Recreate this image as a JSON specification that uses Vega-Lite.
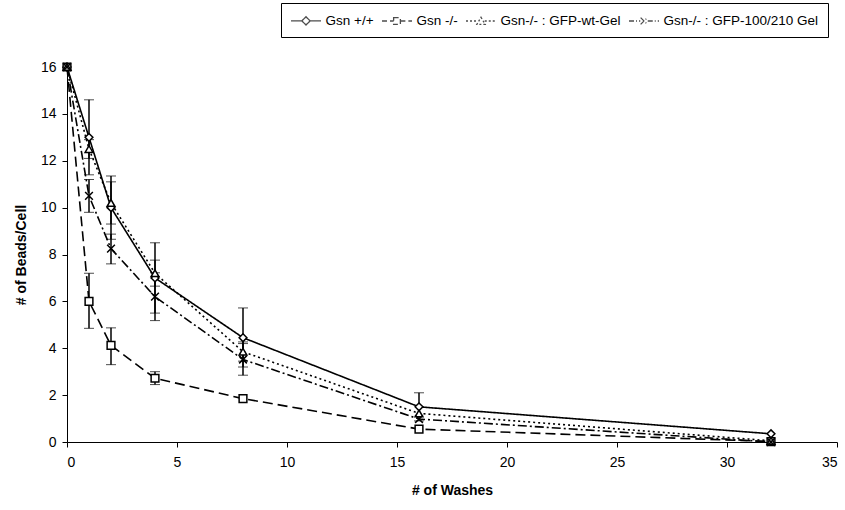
{
  "$schema": "https://vega.github.io/schema/vega-lite/v6.json",
  "width": 770,
  "height": 375,
  "autosize": {"type": "none"},
  "padding": {"left": 67, "top": 67, "right": 8, "bottom": 68},
  "background": "white",
  "config": {
    "font": "Liberation Sans",
    "view": {"stroke": null},
    "axis": {"grid": false, "domainColor": "black", "tickColor": "black", "labelColor": "black", "titleColor": "black", "labelFontSize": 14, "titleFontSize": 14, "titleFontWeight": "bold", "tickSize": 5, "domainWidth": 1}
  },
  "data": {"values": [
    {"series": "Gsn +/+", "x": 0, "y": 16},
    {"series": "Gsn +/+", "x": 1, "y": 13, "lo": 11.4, "hi": 14.6},
    {"series": "Gsn +/+", "x": 2, "y": 10, "lo": 8.65, "hi": 11.35},
    {"series": "Gsn +/+", "x": 4, "y": 7.0, "lo": 5.5, "hi": 8.5},
    {"series": "Gsn +/+", "x": 8, "y": 4.45, "lo": 3.2, "hi": 5.72},
    {"series": "Gsn +/+", "x": 16, "y": 1.5, "lo": 0.9, "hi": 2.1},
    {"series": "Gsn +/+", "x": 32, "y": 0.35},
    {"series": "Gsn -/-", "x": 0, "y": 16},
    {"series": "Gsn -/-", "x": 1, "y": 6.0, "lo": 4.85, "hi": 7.2},
    {"series": "Gsn -/-", "x": 2, "y": 4.12, "lo": 3.3, "hi": 4.87},
    {"series": "Gsn -/-", "x": 4, "y": 2.72, "lo": 2.45, "hi": 3.0},
    {"series": "Gsn -/-", "x": 8, "y": 1.85},
    {"series": "Gsn -/-", "x": 16, "y": 0.55},
    {"series": "Gsn -/-", "x": 32, "y": 0.02},
    {"series": "Gsn-/- : GFP-wt-Gel", "x": 0, "y": 16},
    {"series": "Gsn-/- : GFP-wt-Gel", "x": 1, "y": 12.5, "lo": 12.1, "hi": 12.9},
    {"series": "Gsn-/- : GFP-wt-Gel", "x": 2, "y": 10.2, "lo": 9.3, "hi": 11.1},
    {"series": "Gsn-/- : GFP-wt-Gel", "x": 4, "y": 7.2, "lo": 6.65, "hi": 7.76},
    {"series": "Gsn-/- : GFP-wt-Gel", "x": 8, "y": 3.85, "lo": 3.45, "hi": 4.27},
    {"series": "Gsn-/- : GFP-wt-Gel", "x": 16, "y": 1.22},
    {"series": "Gsn-/- : GFP-wt-Gel", "x": 32, "y": 0.05},
    {"series": "Gsn-/- : GFP-100/210 Gel", "x": 0, "y": 16},
    {"series": "Gsn-/- : GFP-100/210 Gel", "x": 1, "y": 10.5, "lo": 9.8, "hi": 11.2},
    {"series": "Gsn-/- : GFP-100/210 Gel", "x": 2, "y": 8.25, "lo": 7.6, "hi": 8.87},
    {"series": "Gsn-/- : GFP-100/210 Gel", "x": 4, "y": 6.2, "lo": 5.18, "hi": 7.22},
    {"series": "Gsn-/- : GFP-100/210 Gel", "x": 8, "y": 3.52, "lo": 2.85, "hi": 4.2},
    {"series": "Gsn-/- : GFP-100/210 Gel", "x": 16, "y": 0.98},
    {"series": "Gsn-/- : GFP-100/210 Gel", "x": 32, "y": 0.0}
  ]},
  "resolve": {"scale": {"shape": "independent", "strokeDash": "independent"}},
  "layer": [
    {
      "transform": [{"filter": "isValid(datum.lo)"}],
      "mark": {"type": "errorbar", "ticks": {"size": 10, "color": "black", "strokeWidth": 1.5}, "rule": {"color": "black", "strokeWidth": 1.5}},
      "encoding": {
        "x": {"field": "x", "type": "quantitative"},
        "y": {"field": "lo", "type": "quantitative", "title": "# of Beads/Cell"},
        "y2": {"field": "hi"}
      }
    },
    {
      "mark": {"type": "line", "color": "black", "strokeWidth": 1.6},
      "encoding": {
        "x": {"field": "x", "type": "quantitative", "scale": {"domain": [0, 35]}, "axis": {"values": [0, 5, 10, 15, 20, 25, 30, 35], "title": "# of Washes", "titlePadding": 14, "labelPadding": 8}},
        "y": {"field": "y", "type": "quantitative", "scale": {"domain": [0, 16]}, "axis": {"values": [0, 2, 4, 6, 8, 10, 12, 14, 16], "title": "# of Beads/Cell", "titlePadding": 12, "labelPadding": 6}},
        "detail": {"field": "series"},
        "strokeDash": {"field": "series", "type": "nominal", "legend": null,
          "scale": {"domain": ["Gsn +/+", "Gsn -/-", "Gsn-/- : GFP-wt-Gel", "Gsn-/- : GFP-100/210 Gel"], "range": [[1, 0], [10, 5], [2, 3], [9, 3, 2, 3]]}}
      }
    },
    {
      "mark": {"type": "point", "filled": false, "fill": "white", "color": "black", "strokeWidth": 1.5, "opacity": 1, "size": 60},
      "encoding": {
        "x": {"field": "x", "type": "quantitative"},
        "y": {"field": "y", "type": "quantitative"},
        "shape": {"field": "series", "type": "nominal", "legend": null,
          "scale": {"domain": ["Gsn +/+", "Gsn -/-", "Gsn-/- : GFP-wt-Gel", "Gsn-/- : GFP-100/210 Gel"], "range": ["diamond", "square", "triangle-up", "M-1,-1L1,1M-1,1L1,-1"]}}
      }
    },
    {
      "transform": [{"filter": "datum.x < 0"}],
      "mark": {"type": "point", "filled": false, "color": "black", "strokeWidth": 1.5},
      "encoding": {
        "x": {"field": "x", "type": "quantitative"},
        "y": {"field": "y", "type": "quantitative"},
        "shape": {"field": "series", "type": "nominal",
          "scale": {"domain": ["Gsn +/+", "Gsn -/-", "Gsn-/- : GFP-wt-Gel", "Gsn-/- : GFP-100/210 Gel"],
            "range": [
              "M-2,0L-0.55,0M0.55,0L2,0M0,-0.55L0.55,0L0,0.55L-0.55,0Z",
              "M-2,0L-0.45,0M0.45,0L2,0M-0.45,-0.45L0.45,-0.45L0.45,0.45L-0.45,0.45Z",
              "M-2,0L-0.5,0M0.5,0L2,0M0,-0.5L0.55,0.45L-0.55,0.45Z",
              "M-2,0L-0.5,0M0.5,0L2,0M-0.45,-0.45L0.45,0.45M-0.45,0.45L0.45,-0.45"
            ]},
          "legend": {"title": null, "orient": "none", "legendX": 214, "legendY": -64, "direction": "horizontal",
            "strokeColor": "black", "padding": 9, "symbolSize": 225, "symbolStrokeWidth": 1.3, "symbolStrokeColor": "black", "symbolFillColor": "white",
            "labelFontSize": 13.5, "labelColor": "black", "labelLimit": 300, "labelOffset": 11, "columnPadding": 5, "symbolOffset": 7.5}},
        "strokeDash": {"field": "series", "type": "nominal",
          "scale": {"domain": ["Gsn +/+", "Gsn -/-", "Gsn-/- : GFP-wt-Gel", "Gsn-/- : GFP-100/210 Gel"], "range": [[1, 0], [5, 3], [2, 2], [5, 2, 1, 2]]}}
      }
    }
  ]
}
